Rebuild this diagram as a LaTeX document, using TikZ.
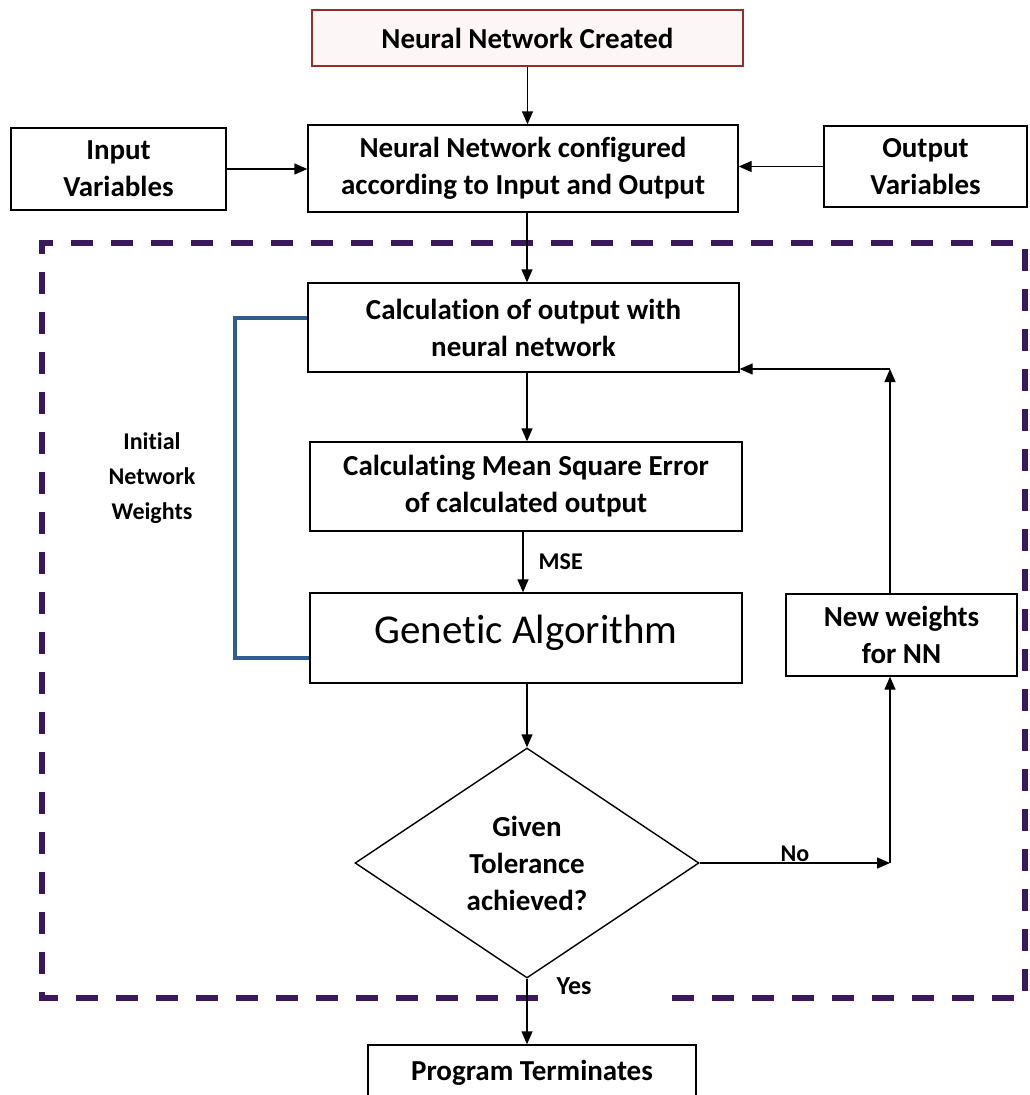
\documentclass[tikz,border=0pt]{standalone}
\usepackage{fontspec}
\setmainfont{Carlito}[Ligatures=NoCommon]
\usepackage{tikz}
\usetikzlibrary{arrows.meta, shapes.geometric, positioning, calc}
\definecolor{StartRed}  {RGB}{150, 45, 45}
\definecolor{StartFill} {RGB}{253,246,246}
\definecolor{LoopPurple}{RGB}{58,  24, 92}
\definecolor{WeightBlue}{RGB}{48,  92,142}

\begin{document}
\begin{tikzpicture}[x=1pt,y=-1pt,
    box/.style={draw,line width=1.4pt,fill=white,align=center,inner sep=0pt,font=\bfseries\fontsize{29}{37}\selectfont},
    lbl/.style={align=center,inner sep=1pt,font=\bfseries\fontsize{24}{35}\selectfont},
    arr/.style={-{Triangle[length=13pt,width=11pt]},line width=1.4pt},
    loopframe/.style={LoopPurple,line width=6pt,dash pattern=on 22pt off 18pt},
    weightline/.style={WeightBlue,line width=4pt}]
      \fill[white] (0,0) rectangle (1030,1095);
      \useasboundingbox (0,0) rectangle (1030,1095);
      \draw[loopframe] (538,998) -- (42,998) -- (42,243) -- (1025,243) -- (1025,998) -- (655,998);
      \node[box,draw=StartRed,fill=StartFill,minimum width=431pt,minimum height=56pt] (created) at (527.5,38) {Neural Network Created};
      \node[box,minimum width=430pt,minimum height=87pt] (config) at (523,168.5) {Neural Network configured\\according to Input and Output};
      \node[box,minimum width=215pt,minimum height=82pt] (input) at (118.5,169) {Input\\Variables};
      \node[box,minimum width=203pt,minimum height=81pt] (output) at (925.5,166.5) {Output\\Variables};
      \node[box,minimum width=431pt,minimum height=89pt] (calc) at (523.5,327.5) {Calculation of output with\\neural network};
      \node[box,minimum width=432pt,minimum height=89pt] (mse) at (526,486.5) {Calculating Mean Square Error\\of calculated output};
      \node[box,minimum width=432pt,minimum height=90pt,font=\fontsize{41}{48}\selectfont,text depth=18pt] (ga) at (526,638) {Genetic Algorithm};
      \node[box,minimum width=231pt,minimum height=82pt] (neww) at (901.5,635) {New weights\\for NN};
      \node[box,diamond,aspect=1.5,minimum width=344pt,minimum height=230pt] (check) at (527,863) {Given\\Tolerance\\achieved?};
      \node[box,minimum width=328pt,minimum height=55pt] (prog) at (532,1072.5) {Program Terminates};
      \node[lbl] (initw) at (152,478) {Initial\\Network\\Weights};
      \coordinate (nocorner) at (890,863);
      \coordinate (upcorner) at (890,369);
      \draw[arr] (created.south) -- (created.south |- config.north);
      \draw[arr] (input.east) -- (input.east -| config.west);
      \draw[arr] (output.west) -- (output.west -| config.east);
      \draw[arr] (check.north |- config.south) -- (check.north |- calc.north);
      \draw[arr] (check.north |- calc.south) -- (check.north |- mse.north);
      \draw[arr] ([xshift=-4pt]check.north |- mse.south) -- node[lbl,right=14pt,midway] {MSE} ([xshift=-4pt]check.north |- ga.north);
      \draw[arr] (check.north |- ga.south) -- (check.north);
      \draw[arr] (check.east) -- node[lbl,above,midway] {No} (nocorner);
      \draw[arr] (nocorner) -- (nocorner |- neww.south);
      \draw[arr] (nocorner |- neww.north) -- (upcorner);
      \draw[arr] (upcorner) -- (upcorner -| calc.east);
      \draw[arr] (check.south) -- node[lbl,right=28pt,pos=0.12,font=\bfseries\fontsize{26}{35}\selectfont] {Yes} (check.south |- prog.north);
      \draw[weightline] ([yshift=9.5pt]calc.west) -- ++(-72,0) |- ([yshift=-20pt]ga.west);
    \end{tikzpicture}
\end{document}
